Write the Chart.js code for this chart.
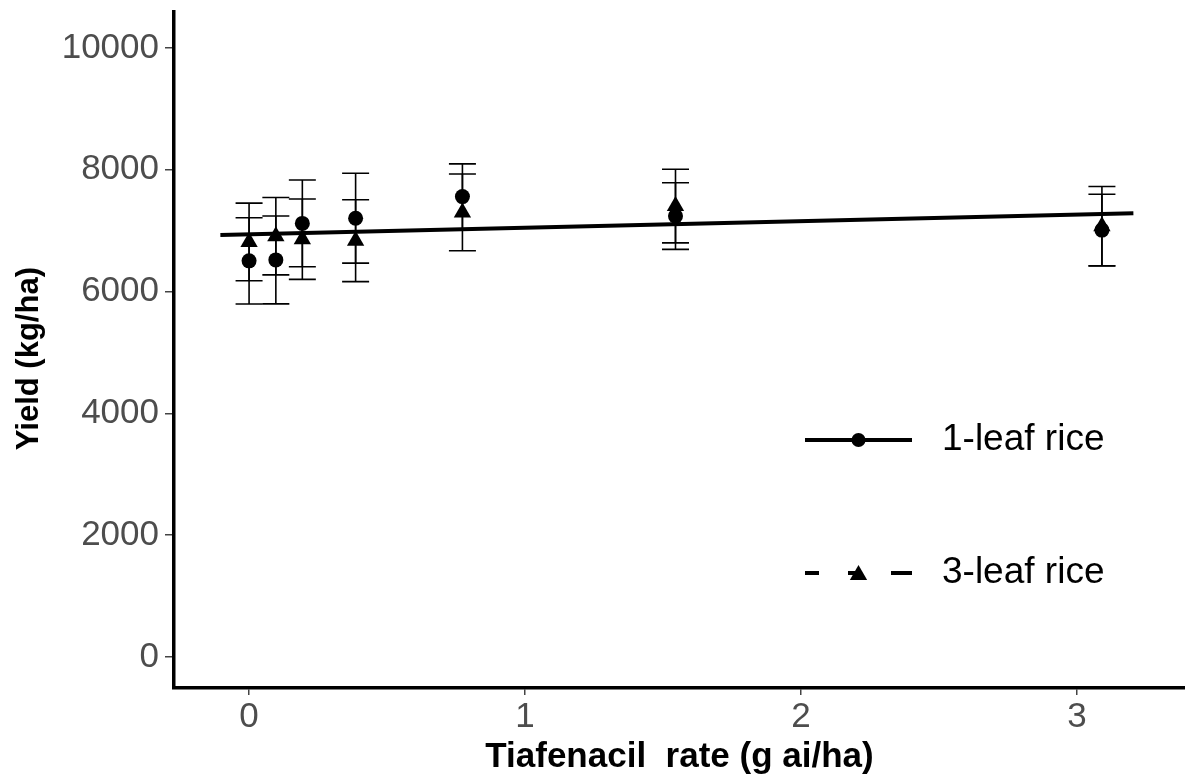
<!DOCTYPE html>
<html>
<head>
<meta charset="utf-8">
<script src="https://cdn.jsdelivr.net/npm/chart.js@4/dist/chart.umd.min.js"></script>
<style>
  html, body { margin: 0; padding: 0; background: #ffffff; }
  #wrap { width: 1185px; height: 780px; }
</style>
</head>
<body>
<div id="wrap"><canvas id="c" width="1185" height="780"></canvas></div>
<script>
// ---- data ----
const rates      = [0, 0.097, 0.193, 0.386, 0.773, 1.545, 3.09];
const leaf1Yield = [6505, 6520, 7120, 7205, 7560, 7240, 7010];
const leaf1Err   = [708, 722, 712, 738, 537, 547, 589];
const leaf3Yield = [6815, 6910, 6860, 6835, 7300, 7405, 7075];
const leaf3Err   = [638, 635, 660, 672, 630, 605, 650];
const fitRates   = [-0.104, 3.204];
const fitYield   = [6930, 7286];
const xTicks = [0, 1, 2, 3];
const yTicks = [0, 2000, 4000, 6000, 8000, 10000];
const seriesNames = ['1-leaf rice', '3-leaf rice'];
const xTitle = 'Tiafenacil  rate (g ai/ha)';
const yTitle = 'Yield (kg/ha)';

const pts = (xs, ys) => xs.map((x, i) => ({ x: x, y: ys[i] }));

const FONT = "'Liberation Sans', Arial, sans-serif";

const errorBars = {
  id: 'errorBars',
  beforeDatasetsDraw(chart) {
    const { ctx, scales: { x, y } } = chart;
    const cap = 13.5;
    ctx.save();
    ctx.strokeStyle = '#000';
    ctx.lineWidth = 1.6;
    chart.data.datasets.forEach(ds => {
      if (!ds.errors) return;
      ds.data.forEach((p, i) => {
        const px = x.getPixelForValue(p.x);
        const top = y.getPixelForValue(p.y + ds.errors[i]);
        const bot = y.getPixelForValue(p.y - ds.errors[i]);
        ctx.beginPath();
        ctx.moveTo(px, top); ctx.lineTo(px, bot);
        ctx.moveTo(px - cap, top); ctx.lineTo(px + cap, top);
        ctx.moveTo(px - cap, bot); ctx.lineTo(px + cap, bot);
        ctx.stroke();
      });
    });
    ctx.restore();
  }
};

const customLegend = {
  id: 'customLegend',
  afterDraw(chart) {
    const { ctx, chartArea: ca } = chart;
    const x0 = ca.left + 631, x1 = ca.left + 738, mx = (x0 + x1) / 2;
    const tx = ca.left + 768;
    const rows = [ca.top + 428, ca.top + 561];
    ctx.save();
    ctx.fillStyle = '#000';
    ctx.strokeStyle = '#000';
    ctx.font = '37px ' + FONT;
    ctx.textBaseline = 'middle';
    ctx.textAlign = 'left';
    // row 1: solid line + circle
    ctx.lineWidth = 4;
    ctx.setLineDash([]);
    ctx.beginPath(); ctx.moveTo(x0, rows[0]); ctx.lineTo(x1, rows[0]); ctx.stroke();
    Chart.helpers.drawPoint(ctx, { pointStyle: 'circle', radius: 7, rotation: 0, borderWidth: 0 }, mx, rows[0]);
    ctx.fillText(seriesNames[0], tx, rows[0]);
    // row 2: dashed line + triangle
    ctx.setLineDash([14, 29, 14, 29, 21, 100]);
    ctx.beginPath(); ctx.moveTo(x0, rows[1]); ctx.lineTo(x1, rows[1]); ctx.stroke();
    ctx.setLineDash([]);
    Chart.helpers.drawPoint(ctx, { pointStyle: 'triangle', radius: 10, rotation: 0, borderWidth: 0 }, mx, rows[1] + 2);
    ctx.fillText(seriesNames[1], tx, rows[1]);
    ctx.restore();
  }
};

new Chart(document.getElementById('c'), {
  type: 'scatter',
  data: {
    datasets: [
      {
        label: seriesNames[0],
        data: pts(rates, leaf1Yield),
        errors: leaf1Err,
        pointStyle: 'circle',
        pointRadius: 7.5,
        backgroundColor: '#000',
        borderColor: '#000',
        borderWidth: 0
      },
      {
        label: seriesNames[1],
        data: pts(rates, leaf3Yield),
        errors: leaf3Err,
        pointStyle: 'triangle',
        pointRadius: 10,
        backgroundColor: '#000',
        borderColor: '#000',
        borderWidth: 0
      },
      {
        label: 'fit',
        type: 'line',
        data: pts(fitRates, fitYield),
        borderColor: '#000',
        borderWidth: 4,
        pointRadius: 0,
        showLine: true,
        fill: false
      }
    ]
  },
  options: {
    responsive: false,
    animation: false,
    devicePixelRatio: 1,
    layout: { autoPadding: false, padding: { top: 12, right: 0, bottom: 0, left: 0 } },
    plugins: { legend: { display: false }, tooltip: { enabled: false } },
    scales: {
      x: {
        type: 'linear',
        min: -0.272,
        max: 3.391,
        afterBuildTicks: s => { s.ticks = xTicks.map(v => ({ value: v })); },
        afterFit: s => { s.height = 92; s.paddingLeft = 0; s.paddingRight = 0; },
        ticks: { font: { family: FONT, size: 35 }, color: '#4d4d4d', padding: 1, maxRotation: 0, callback: v => String(v) },
        grid: { drawOnChartArea: false, drawTicks: true, tickLength: 7, color: '#444', lineWidth: 1.5 },
        border: { display: true, color: '#000', width: 3.5 },
        title: { display: true, text: xTitle, color: '#000', font: { family: FONT, size: 35, weight: 'bold' }, padding: { top: 0, bottom: 2 } }
      },
      y: {
        type: 'linear',
        min: -509,
        max: 10591,
        afterBuildTicks: s => { s.ticks = yTicks.map(v => ({ value: v })); },
        afterFit: s => { s.width = 174; s.paddingTop = 0; s.paddingBottom = 0; },
        ticks: { font: { family: FONT, size: 35 }, color: '#4d4d4d', padding: 6, callback: v => String(v) },
        grid: { drawOnChartArea: false, drawTicks: true, tickLength: 9, color: '#444', lineWidth: 1.5 },
        border: { display: true, color: '#000', width: 3.5 },
        title: { display: true, text: yTitle + '  ', color: '#000', font: { family: FONT, size: 31, weight: 'bold' }, padding: { top: 11, bottom: 0 } }
      }
    }
  },
  plugins: [errorBars, customLegend]
});
</script>
</body>
</html>
